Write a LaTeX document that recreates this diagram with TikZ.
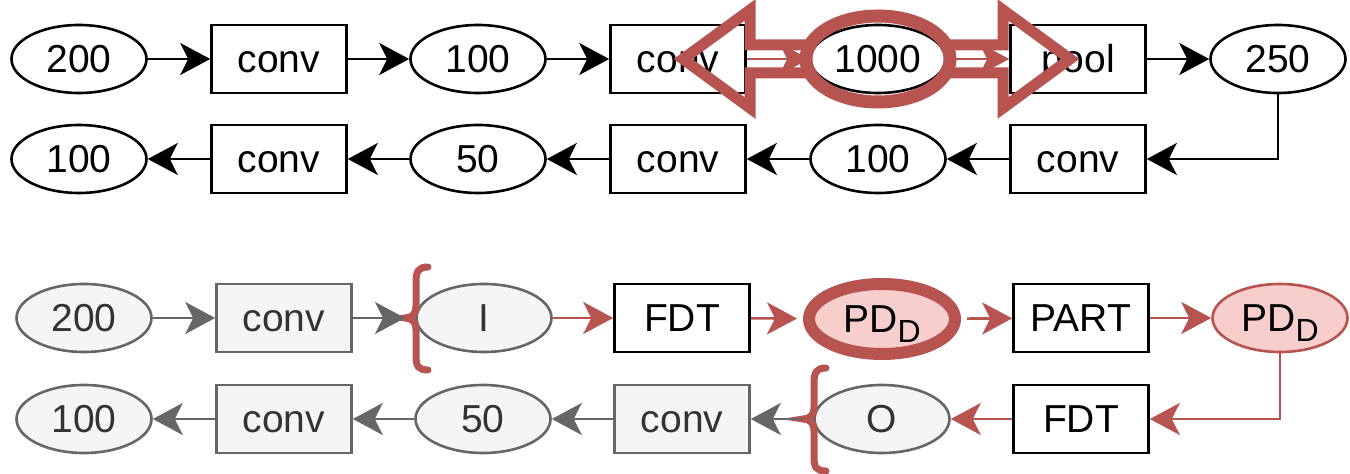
\documentclass[tikz,border=0pt]{standalone}
\usepackage{fontspec}
\setmainfont{Liberation Sans}
\usetikzlibrary{shapes.geometric,arrows.meta}
\definecolor{rd}{HTML}{B85450}
\definecolor{pk}{HTML}{F8CECC}
\definecolor{gs}{HTML}{666666}
\definecolor{gf}{HTML}{F5F5F5}
\definecolor{gt}{HTML}{333333}
\tikzset{
  base/.style={draw, line width=1.3pt, minimum width=67.5pt, minimum height=34pt, inner sep=0pt,
    font=\fontsize{19.5}{23}\selectfont, fill=white, text height=14pt, text depth=0pt},
  ell/.style={base, ellipse},
  box/.style={base, rectangle},
  grey/.style={draw=gs, fill=gf, text=gt},
  pinkell/.style={ell, draw=rd, fill=pk},
  thickell/.style={ell, draw=rd, fill=pk, line width=6pt, minimum width=73pt, minimum height=35pt},
  arr/.style={line width=1.2pt, -{Stealth[length=15pt,width=16pt,inset=4pt]}},
  garr/.style={arr, draw=gs, color=gs},
  rarr/.style={arr, draw=rd, color=rd, line width=1.3pt},
  brace/.style={draw=rd, line width=3.5pt, line cap=round},
  bigarrow/.style={draw=rd, line width=5.5pt, line join=miter},
  ring/.style={draw=rd, line width=6.5pt},
}
\newcommand{\pdd}{PD\raisebox{-5pt}{\fontsize{16}{16}\selectfont D}}
\begin{document}
\begin{tikzpicture}[x=0.5pt,y=-0.5pt]
\useasboundingbox[fill=white] (0,0) rectangle (1350,474);
% top section
\node[ell] (A1) at (79,59) {200};
\node[box] (A2) at (279,59) {conv};
\node[ell] (A3) at (478,59) {100};
\node[box] (A4) at (678,59) {conv};
\node[ell] (A5) at (878,59) {1000};
\node[box] (A6) at (1078,59) {pool};
\node[ell] (A7) at (1278,59) {250};
\node[ell] (B1) at (79,159) {100};
\node[box] (B2) at (279,159) {conv};
\node[ell] (B3) at (478,159) {50};
\node[box] (B4) at (678,159) {conv};
\node[ell] (B5) at (878,159) {100};
\node[box] (B6) at (1078,159) {conv};
\draw[arr] (A1) -- (A2);
\draw[arr] (A2) -- (A3);
\draw[arr] (A3) -- (A4);
\draw[rarr] (A4) -- (A5);
\draw[rarr] (A5) -- (A6);
\draw[arr] (A6) -- (A7);
\draw[arr] (A7.south) |- (B6.east);
\draw[arr] (B6) -- (B5);
\draw[arr] (B5) -- (B4);
\draw[arr] (B4) -- (B3);
\draw[arr] (B3) -- (B2);
\draw[arr] (B2) -- (B1);
% double block arrow around 1000
\draw[bigarrow] (810,45) -- (750,45) -- (750,10) -- (683,59) -- (750,108) -- (750,73) -- (810,73);
\draw[bigarrow] (946,45) -- (1003,45) -- (1003,10) -- (1070,59) -- (1003,108) -- (1003,73) -- (946,73);
\draw[ring] (A5) ellipse [x radius=36pt, y radius=21.5pt];
% bottom section
\node[ell,grey] (C1) at (84,318) {200};
\node[box,grey] (C2) at (284,318) {conv};
\node[ell,grey] (C3) at (484,318) {I};
\node[box] (C4) at (682,318) {FDT};
\node[thickell] (C5) at (882,319) {\pdd};
\node[box] (C6) at (1081,318) {PART};
\node[pinkell] (C7) at (1280,318) {\pdd};
\node[ell,grey] (D1) at (84,419) {100};
\node[box,grey] (D2) at (284,419) {conv};
\node[ell,grey] (D3) at (483,419) {50};
\node[box,grey] (D4) at (682,419) {conv};
\node[ell,grey] (D5) at (882,419) {O};
\node[box] (D6) at (1081,419) {FDT};
\coordinate (b1) at (405,318);
\coordinate (b2) at (803,419);
\draw[brace] (428,267) .. controls (418,267) and (416,272) .. (416,282) -- (416,306) .. controls (416,314) and (412,318) .. (b1) .. controls (412,318) and (416,322) .. (416,330) -- (416,356) .. controls (416,366) and (418,370) .. (428,370);
\draw[brace] (826,368) .. controls (816,368) and (814,373) .. (814,383) -- (814,407) .. controls (814,415) and (810,419) .. (b2) .. controls (810,419) and (814,423) .. (814,431) -- (814,457) .. controls (814,467) and (816,471) .. (826,471);
\draw[garr] (C1) -- (C2);
\draw[garr] (C2) -- (b1);
\draw[rarr] (C3) -- (C4);
\draw[rarr, shorten >=3pt] (C4) -- (C5);
\draw[rarr, shorten <=3pt] (C5) -- (C6);
\draw[rarr] (C6) -- (C7);
\draw[rarr] (C7.south) |- (D6.east);
\draw[rarr] (D6) -- (D5);
\draw[garr] (b2) -- (D4);
\draw[garr] (D4) -- (D3);
\draw[garr] (D3) -- (D2);
\draw[garr] (D2) -- (D1);
\end{tikzpicture}
\end{document}
